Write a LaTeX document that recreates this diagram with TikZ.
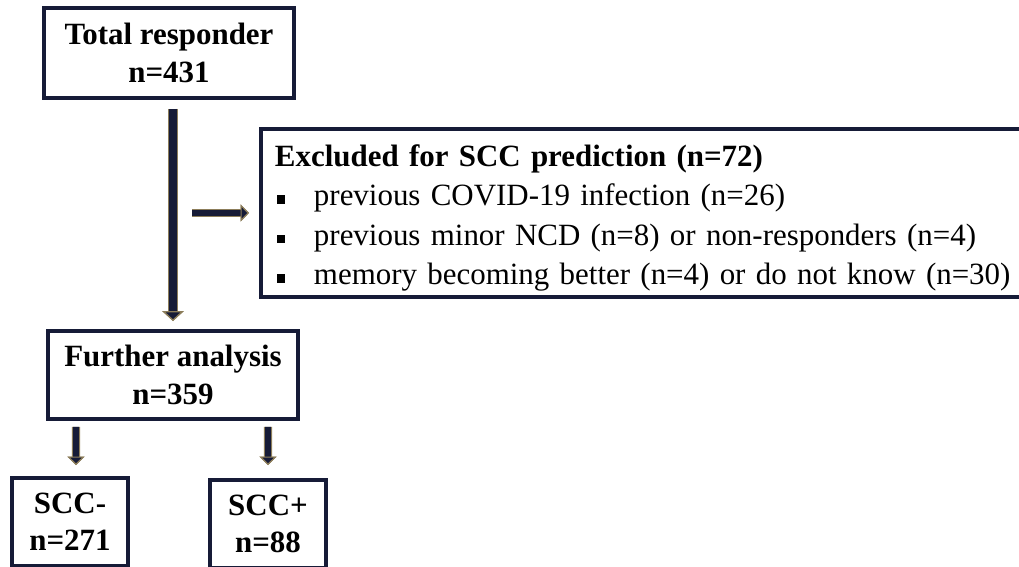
\documentclass[tikz,border=0pt]{standalone}
\usepackage{fontspec}
\setmainfont{Liberation Serif}
\usetikzlibrary{arrows.meta}

\definecolor{navy}{RGB}{22,27,55}
\definecolor{tan}{RGB}{140,125,90}

% small square bullet of the exclusion list
\newcommand{\sqbullet}{\hspace*{0.05cm}\rule[0.05cm]{0.2cm}{0.22cm}\hspace{0.725cm}}

\tikzset{
    box/.style={draw=navy, line width=2.8pt, align=center, inner sep=0pt,
        font=\bfseries\fontsize{22pt}{26.5pt}\selectfont},
    flow/.style={draw=navy, line width=5pt,
        -{Triangle[length=7pt,width=15pt,fill=navy,color=tan,line width=0.9pt]},
        preaction={draw=tan, line width=7pt, -{Triangle[length=7pt,width=15pt]}}},
    smallflow/.style={draw=navy, line width=4pt,
        -{Triangle[length=6pt,width=12pt,fill=navy,color=tan,line width=0.8pt]},
        preaction={draw=tan, line width=5.8pt, -{Triangle[length=6pt,width=12pt]}}}
}

\begin{document}
\begin{tikzpicture}[x=0.025cm, y=-0.025cm]
            \useasboundingbox (0,0) rectangle (1019,566);

            \node[box, minimum width=6.25cm, minimum height=2.25cm] (total) at (169,53) {Total responder\\n=431};
            \node[box, minimum width=6.25cm, minimum height=2.2cm] (further) at (173,375) {Further analysis\\n=359};
            \node[box, anchor=north west, align=left, text width=19cm, inner xsep=0.35cm, inner ysep=0.14cm,
                font=\fontsize{22pt}{28pt}\selectfont] (excl) at (259,127)
                {\rule{0pt}{0.8cm}{\bfseries Excluded for SCC prediction (n=72)}\\
                 \sqbullet previous COVID-19 infection (n=26)\\
                 \sqbullet previous minor NCD (n=8) or non-responders (n=4)\\
                 \sqbullet memory becoming better (n=4) or do not know (n=30)};
            \node[box, minimum width=2.9cm, minimum height=2.2cm] (minus) at (70,522) {SCC-\\n=271};
            \node[box, minimum width=2.9cm, minimum height=2.2cm] (plus) at (268,524) {SCC+\\n=88};

            \draw[flow, shorten <=0.225cm, shorten >=0.2cm] (further.north |- total.south) -- (further.north);
            \draw[smallflow, shorten <=0.475cm, shorten >=0.25cm] (excl.west -| further.north) -- (excl.west);
            \draw[smallflow, shorten <=0.15cm, shorten >=0.275cm] ([xshift=-2.425cm]further.south) -- ([xshift=0.15cm]minus.north);
            \draw[smallflow, shorten <=0.15cm, shorten >=0.325cm] ([xshift=2.375cm]further.south) -- (plus.north);
        \end{tikzpicture}
\end{document}
